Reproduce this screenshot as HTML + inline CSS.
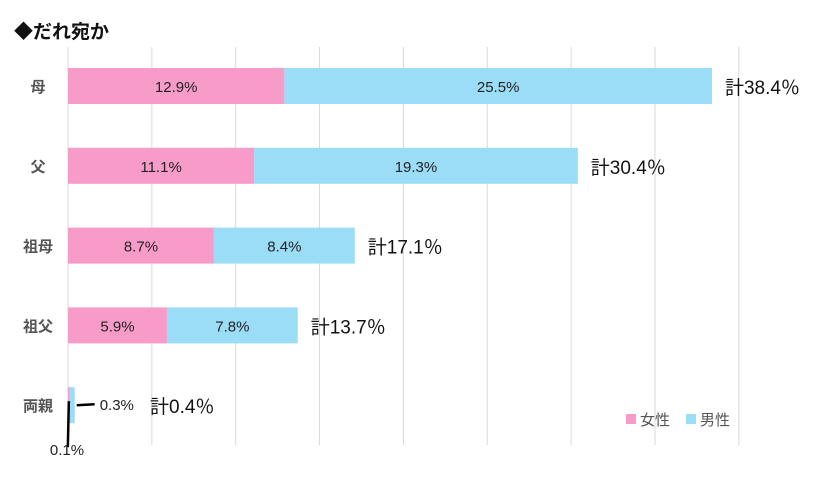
<!DOCTYPE html>
<html><head><meta charset="utf-8"><style>
body{margin:0;background:#fff;width:813px;height:472px;overflow:hidden;font-family:"Liberation Sans","Noto Sans CJK JP",sans-serif}
svg text{font-family:"Liberation Sans","Noto Sans CJK JP",sans-serif}
</style></head><body>
<svg id="c" width="813" height="472">
<text x="14" y="38" font-size="19" font-weight="bold" fill="#111">◆だれ宛か</text>
<g id="grid"></g><g id="bars"></g>
<g>
<rect x="626" y="414" width="10" height="10" fill="#f79bc9"/>
<text x="640" y="425" font-size="15" fill="#555">女性</text>
<rect x="686" y="414" width="10" height="10" fill="#9bdcf6"/>
<text x="700" y="425" font-size="15" fill="#555">男性</text>
</g>
</svg>
<script>
const categories=["母","父","祖母","祖父","両親"];
const female=[12.9,11.1,8.7,5.9,0.1];
const male=[25.5,19.3,8.4,7.8,0.3];
const totals=["計38.4％","計30.4％","計17.1％","計13.7％","計0.4％"];
const ticks=[0,5,10,15,20,25,30,35,40];
const ns="http://www.w3.org/2000/svg";
const x0=68,ppu=16.77;
const X=v=>x0+v*ppu;
const Y=i=>68+i*79.8;
const bh=36;
function mk(t,a,p){const e=document.createElementNS(ns,t);for(const k in a)e.setAttribute(k,a[k]);p.appendChild(e);return e;}
const g=document.getElementById('grid'),b=document.getElementById('bars');
ticks.forEach(t=>{if(X(t)>800)return;const l=mk('line',{x1:X(t),x2:X(t),y1:47,y2:445,stroke:'#d9d9d9','stroke-width':1},g);

});
categories.forEach((c,i)=>{
const y=Y(i);
const lab=mk('text',{x:38,y:y+bh/2+6,'font-size':15,'font-weight':'bold',fill:'#555','text-anchor':'middle'},b);lab.textContent=c;


const r1=mk('rect',{x:X(0),y:y,width:female[i]*ppu,height:bh,fill:'#f79bc9'},b);


const r2=mk('rect',{x:X(female[i]),y:y,width:male[i]*ppu,height:bh,fill:'#9bdcf6'},b);


const tot=X(female[i]+male[i]);
if(i<4){
const t1=mk('text',{x:X(female[i]/2),y:y+bh/2+6,'font-size':15,fill:'#222','text-anchor':'middle'},b);t1.textContent=female[i].toFixed(1)+'%';


const t2=mk('text',{x:X(female[i]+male[i]/2),y:y+bh/2+6,'font-size':15,fill:'#222','text-anchor':'middle'},b);t2.textContent=male[i].toFixed(1)+'%';


}else{
mk('line',{x1:X(female[i]/2),x2:X(female[i]/2)-1,y1:y+14,y2:y+60,stroke:'#000','stroke-width':2.5},b);
mk('line',{x1:tot+2,x2:tot+20,y1:y+18,y2:y+17,stroke:'#000','stroke-width':2.5},b);
const t1=mk('text',{x:67,y:y+68,'font-size':15,fill:'#222','text-anchor':'middle'},b);t1.textContent=female[i].toFixed(1)+'%';


const t2=mk('text',{x:tot+25,y:y+23,'font-size':15,fill:'#222'},b);t2.textContent=male[i].toFixed(1)+'%';


}
const tx=i<4?tot+13:150;
const t3=mk('text',{x:tx,y:y+bh/2+8,'font-size':19,fill:'#111'},b);t3.textContent=totals[i];


});
</script>
</body></html>
